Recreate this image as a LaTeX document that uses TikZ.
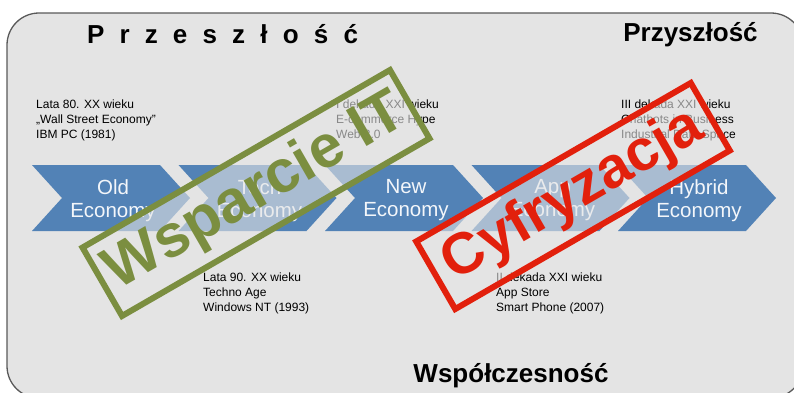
\documentclass[tikz,border=0pt]{standalone}
\usepackage{fontspec}
\setmainfont{Liberation Sans}
\newfontfamily\spacedfont[WordSpace=2.1]{Liberation Sans}
\definecolor{panelgray}{HTML}{E4E4E4}
\definecolor{chevblue}{HTML}{5282B6}
\definecolor{stampgreen}{HTML}{7B8E40}
\definecolor{stampred}{HTML}{E2200C}
\begin{document}
\begin{tikzpicture}[
    x=1pt,y=-1pt,
    panel/.style={
        draw=black!65,
        fill=panelgray,
        line width=1.3pt,
        rounded corners=32pt
    },
    chevron/.style={
        fill=chevblue
    },
    chevtext/.style={
        align=center,
        text=white!93!chevblue,
        inner sep=0pt,
        font=\fontsize{20.5}{23}\selectfont
    },
    era/.style={
        align=left,
        anchor=north west,
        inner sep=0pt,
        font=\fontsize{12}{15}\selectfont
    },
    heading/.style={
        anchor=base,
        inner sep=0pt,
        font=\fontsize{26}{30}\selectfont\bfseries
    },
    stamp/.style={
        draw=#1,
        text=#1,
        line width=6pt,
        fill=panelgray,
        fill opacity=0.6,
        text opacity=1,
        draw opacity=1,
        rotate=30,
        inner sep=0pt
    }
    ]
\useasboundingbox (0,0) rectangle (794,392);
\draw[panel] (7,13) rectangle (803,398);

% headings
\node[heading] (przeszlosc) at (222.5,43) {\spacedfont\bfseries P r z e s z ł o ś ć};
\node[heading] (przyszlosc) at (690.5,41) {Przyszłość};
\node[heading] (wspolczesnosc) at (511,382) {Współczesność};

% time line
\foreach \x/\name/\first in {32/old/Old, 178.5/tech/Tech, 325/new/New, 471.5/app/App, 618/hybrid/Hybrid} {
    \fill[chevron] (\x,165) -- ++(128,0) -- ++(30,33) -- ++(-30,33) -- ++(-128,0) -- ++(30,-33) -- cycle;
    \node[chevtext] (\name) at (\x+81,200.5) {\first\\Economy};
}

\node[era] (pastA) at (36,99.5) {Lata 80. XX wieku\\„Wall Street Economy”\\IBM PC (1981)};
\node[era] (pastB) at (203,272.5) {Lata 90. XX wieku\\Techno Age\\Windows NT (1993)};
\node[era] (nowA) at (336,99.5) {I dekada XXI wieku\\E-commerce Hype\\Web 2.0};
\node[era] (nowB) at (496,272.5) {II dekada XXI wieku\\App Store\\Smart Phone (2007)};
\node[era] (futA) at (621,99.5) {III dekada XXI wieku\\Chatbots in Business\\Industrial Data Space};

% stamps
\node[stamp=stampgreen,minimum width=355pt,minimum height=79pt,font=\fontsize{60}{64}\selectfont\bfseries] (wsparcie) at (256,193) {Wsparcie IT};
\node[stamp=stampred,minimum width=317pt,minimum height=78pt,font=\fontsize{58}{62}\selectfont\bfseries] (cyfryzacja) at (573,196) {Cyfryzacja};
\end{tikzpicture}
\end{document}
